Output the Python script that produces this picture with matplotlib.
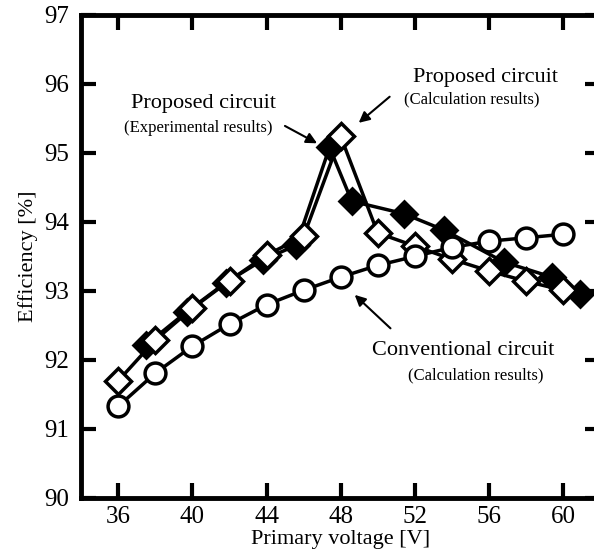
import matplotlib
matplotlib.use("Agg")
import matplotlib.pyplot as plt

# ---------- DATA ----------
conv_v = [36, 38, 40, 42, 44, 46, 48, 50, 52, 54, 56, 58, 60]
conv_eff = [91.33, 91.81, 92.2, 92.52, 92.8, 93.01, 93.2, 93.37, 93.5, 93.63, 93.72, 93.77, 93.82]

calc_v = [36, 38, 40, 42, 44, 46, 48, 50, 52, 54, 56, 58, 60]
calc_eff = [91.7, 92.29, 92.75, 93.15, 93.52, 93.79, 95.24, 93.84, 93.65, 93.46, 93.29, 93.14, 93.01]

exp_v = [37.5, 39.7, 41.8, 43.8, 45.6, 47.4, 48.6, 51.4, 53.6, 56.8, 59.4, 60.9]
exp_eff = [92.22, 92.7, 93.12, 93.45, 93.66, 95.08, 94.3, 94.12, 93.88, 93.42, 93.2, 92.95]

xticks = [36, 40, 44, 48, 52, 56, 60]
yticks = [90, 91, 92, 93, 94, 95, 96, 97]

plt.rcParams['font.family'] = ['Liberation Serif', 'DejaVu Serif']

fig = plt.figure(figsize=(5.94, 5.52), dpi=100)
ax = fig.add_axes([0.137, 0.098, 0.873, 0.875])

ax.plot(exp_v, exp_eff, '-D', color='black', lw=2.5, ms=13,
        mfc='black', mec='black', mew=2.0, zorder=3)
ax.plot(calc_v, calc_eff, '-D', color='black', lw=2.5, ms=13,
        mfc='white', mec='black', mew=2.5, zorder=4)
ax.plot(conv_v, conv_eff, '-o', color='black', lw=2.5, ms=15,
        mfc='white', mec='black', mew=2.5, zorder=5)

ax.set_xlim(34, 62)
ax.set_ylim(90, 97)
ax.set_xticks(xticks)
ax.set_yticks(yticks)
ax.tick_params(direction='in', length=11, width=3, top=True, right=True,
               labelsize=18, pad=6)
ax.tick_params(axis='y', pad=9)
for s in ax.spines.values():
    s.set_linewidth(3.5)

ax.set_xlabel('Primary voltage [V]', fontsize=16, labelpad=1)
ax.set_ylabel('Efficiency [%]', fontsize=16, labelpad=4)

# ---------- ANNOTATIONS ----------
ax.text(40.6, 95.72, 'Proposed circuit', fontsize=16, ha='center', va='center')
ax.text(40.3, 95.36, '(Experimental results)', fontsize=12, ha='center', va='center')
ax.annotate('', xy=(46.86, 95.12), xytext=(44.86, 95.41),
            arrowprops=dict(arrowstyle='-|>', color='black', lw=1.5, mutation_scale=16))

ax.text(55.84, 96.1, 'Proposed circuit', fontsize=16, ha='center', va='center')
ax.text(55.08, 95.77, '(Calculation results)', fontsize=12, ha='center', va='center')
ax.annotate('', xy=(48.86, 95.41), xytext=(50.76, 95.84),
            arrowprops=dict(arrowstyle='-|>', color='black', lw=1.5, mutation_scale=16))

ax.text(54.6, 92.14, 'Conventional circuit', fontsize=16, ha='center', va='center')
ax.text(55.3, 91.78, '(Calculation results)', fontsize=12, ha='center', va='center')
ax.annotate('', xy=(48.65, 92.97), xytext=(50.8, 92.43),
            arrowprops=dict(arrowstyle='-|>', color='black', lw=1.5, mutation_scale=16))

fig.savefig('out.png', dpi=100)
